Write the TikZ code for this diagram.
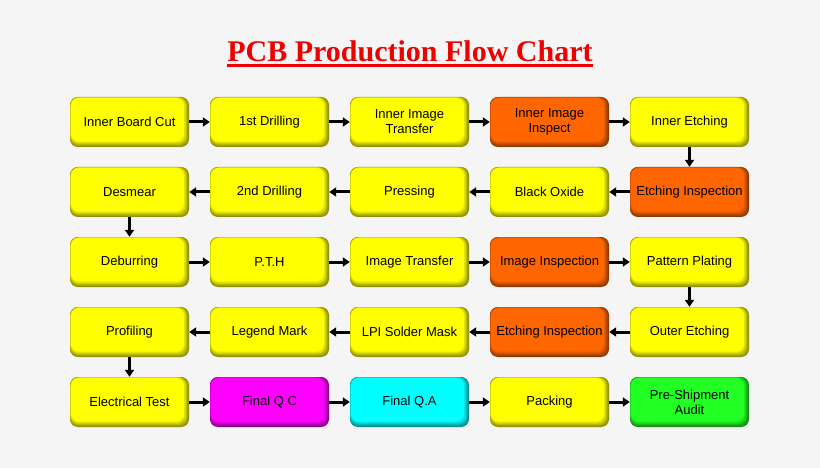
\documentclass[tikz,border=0pt]{standalone}
\usepackage{fontspec}
\setmainfont{Liberation Serif}
\newfontfamily\boxfont{Liberation Sans}
\usetikzlibrary{arrows.meta}
\definecolor{bg}{HTML}{F5F5F5}
\definecolor{cyel}{HTML}{FFFF00}
\definecolor{corg}{HTML}{FF6600}
\definecolor{cmag}{HTML}{FF00FF}
\definecolor{ccya}{HTML}{00FFFF}
\definecolor{cgrn}{HTML}{22FF22}
\definecolor{ctitle}{HTML}{EE0000}
\tikzset{
  stage/.style={rounded corners=8pt, minimum width=119pt, minimum height=50pt,
    inner sep=0pt, align=center, font=\boxfont\fontsize{13}{15}\selectfont, text=black,
    fill=#1!55!black,
    path picture={
      \foreach \i in {1,...,8}{
        \pgfmathtruncatemacro\m{55+\i*45/8}
        \fill[#1!\m!black, rounded corners=8pt]
          ([shift={(0.12*\i pt,-0.12*\i pt)}]path picture bounding box.north west) rectangle
          ([shift={(-0.65*\i pt,0.7*\i pt)}]path picture bounding box.south east);
      }
    }},
  arr/.style={line width=3pt, -{Triangle[length=7pt,width=9pt]}},
}
\begin{document}
\begin{tikzpicture}[x=1pt,y=-1pt]
\fill[bg] (0,0) rectangle (820,468);
\useasboundingbox (0,0) rectangle (820,468);
\node[anchor=base, text=ctitle, inner sep=0pt, font=\fontsize{30}{36}\selectfont\bfseries] (title) at (410,62) {PCB Production Flow Chart};
\draw[ctitle, line width=2.2pt] ([yshift=-3.5pt]title.base west) -- ([yshift=-3.5pt]title.base east);
% row 1
\node[stage=cyel] (a1) at (129.5,122) {Inner Board Cut};
\node[stage=cyel] (a2) at (269.5,122) {1st Drilling};
\node[stage=cyel] (a3) at (409.5,122) {Inner Image\\Transfer};
\node[stage=corg] (a4) at (549.5,122) {Inner Image\\Inspect};
\node[stage=cyel] (a5) at (689.5,122) {Inner Etching};
% row 2
\node[stage=cyel] (b1) at (129.5,192) {Desmear};
\node[stage=cyel] (b2) at (269.5,192) {2nd Drilling};
\node[stage=cyel] (b3) at (409.5,192) {Pressing};
\node[stage=cyel] (b4) at (549.5,192) {Black Oxide};
\node[stage=corg] (b5) at (689.5,192) {Etching Inspection};
% row 3
\node[stage=cyel] (c1) at (129.5,262) {Deburring};
\node[stage=cyel] (c2) at (269.5,262) {P.T.H};
\node[stage=cyel] (c3) at (409.5,262) {Image Transfer};
\node[stage=corg] (c4) at (549.5,262) {Image Inspection};
\node[stage=cyel] (c5) at (689.5,262) {Pattern Plating};
% row 4
\node[stage=cyel] (d1) at (129.5,332) {Profiling};
\node[stage=cyel] (d2) at (269.5,332) {Legend Mark};
\node[stage=cyel] (d3) at (409.5,332) {LPI Solder Mask};
\node[stage=corg] (d4) at (549.5,332) {Etching Inspection};
\node[stage=cyel] (d5) at (689.5,332) {Outer Etching};
% row 5
\node[stage=cyel] (e1) at (129.5,402) {Electrical Test};
\node[stage=cmag] (e2) at (269.5,402) {Final Q.C};
\node[stage=ccya] (e3) at (409.5,402) {Final Q.A};
\node[stage=cyel] (e4) at (549.5,402) {Packing};
\node[stage=cgrn] (e5) at (689.5,402) {Pre-Shipment\\Audit};
% arrows
\draw[arr] (a1) -- (a2);
\draw[arr] (a2) -- (a3);
\draw[arr] (a3) -- (a4);
\draw[arr] (a4) -- (a5);
\draw[arr] (a5) -- (b5);
\draw[arr] (b5) -- (b4);
\draw[arr] (b4) -- (b3);
\draw[arr] (b3) -- (b2);
\draw[arr] (b2) -- (b1);
\draw[arr] (b1) -- (c1);
\draw[arr] (c1) -- (c2);
\draw[arr] (c2) -- (c3);
\draw[arr] (c3) -- (c4);
\draw[arr] (c4) -- (c5);
\draw[arr] (c5) -- (d5);
\draw[arr] (d5) -- (d4);
\draw[arr] (d4) -- (d3);
\draw[arr] (d3) -- (d2);
\draw[arr] (d2) -- (d1);
\draw[arr] (d1) -- (e1);
\draw[arr] (e1) -- (e2);
\draw[arr] (e2) -- (e3);
\draw[arr] (e3) -- (e4);
\draw[arr] (e4) -- (e5);
\end{tikzpicture}
\end{document}
